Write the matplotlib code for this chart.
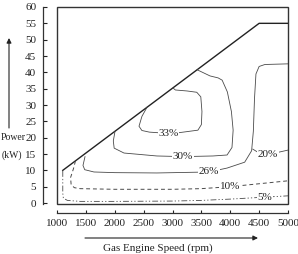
import matplotlib
matplotlib.use('Agg')
import matplotlib.pyplot as plt
from matplotlib.patches import Rectangle

plt.rcParams['font.family'] = ['Liberation Serif', 'DejaVu Serif']

# operating boundary (max power line)
bound_rpm = [1100, 4500, 5000]
bound_kw = [10, 55, 55]

# efficiency contours
c33_rpm = [2558, 2470, 2420, 2470, 2600, 2850, 3100, 3440, 3500, 3510, 3490, 3420, 3250, 3050, 3009]
c33_kw = [29.3, 26.5, 23.5, 22.2, 21.7, 21.4, 21.5, 22.3, 24.0, 28.0, 32.5, 33.9, 34.3, 34.6, 35.2]

c30_rpm = [2004, 1975, 1990, 2160, 2730, 3180, 3700, 3945, 4030, 4050, 4020, 3950, 3860, 3790, 3650, 3425]
c30_kw = [21.9, 19.0, 16.8, 15.3, 14.4, 14.2, 14.4, 14.7, 17.0, 22.3, 28.0, 34.0, 37.6, 38.3, 38.9, 40.8]

c26_rpm = [1485, 1450, 1480, 1640, 2000, 2730, 3630, 3945, 4250, 4370, 4400, 4420, 4445, 4500, 4600, 5000]
c26_kw = [14.2, 11.5, 10.2, 9.5, 9.3, 9.2, 9.5, 10.7, 12.5, 16.0, 22.0, 32.0, 39.5, 41.8, 42.4, 42.6]

c20_rpm = [4390, 4500, 4650, 4850, 5000]
c20_kw = [16.5, 15.3, 15.0, 15.6, 16.2]

c10_rpm = [1320, 1285, 1235, 1245, 1300, 1400, 2000, 3000, 3500, 4000, 4500, 5000]
c10_kw = [12.9, 10.5, 7.8, 5.6, 4.7, 4.4, 4.2, 4.2, 4.4, 5.0, 5.9, 6.8]

c5_rpm = [1100, 1100, 1110, 1180, 1400, 2000, 3000, 3500, 4000, 4600, 5000]
c5_kw = [9.8, 3.0, 1.5, 0.8, 0.5, 0.5, 0.6, 0.8, 1.2, 1.8, 2.2]

# label positions
labels = ['33%', '30%', '26%', '20%', '10%', '5%']
lab_rpm = [2930, 3180, 3630, 4650, 4000, 4600]
lab_kw = [21.4, 14.2, 9.5, 15.0, 5.0, 1.8]

xticks = [1000, 1500, 2000, 2500, 3000, 3500, 4000, 4500, 5000]
yticks = list(range(0, 61, 5))

fig = plt.figure(figsize=(2.98, 2.54), dpi=100)
ax = fig.add_axes([57 / 298, 50 / 254, 231 / 298, 197 / 254])

line_col = '#222222'
cont_col = '#4a4a4a'

ax.plot(bound_rpm, bound_kw, color=line_col, lw=1.0)
for r, k in [(c33_rpm, c33_kw), (c30_rpm, c30_kw), (c26_rpm, c26_kw), (c20_rpm, c20_kw)]:
    ax.plot(r, k, color=cont_col, lw=0.6)
ax.plot(c10_rpm, c10_kw, color=cont_col, lw=0.7, dashes=(4, 3))
ax.plot(c5_rpm, c5_kw, color=cont_col, lw=0.6, dashes=(7, 2.5, 1.5, 2.5, 1.5, 2.5))

for t, r, k in zip(labels, lab_rpm, lab_kw):
    ax.text(r, k, t, fontsize=8, ha='center', va='center', color='#222222',
            bbox=dict(facecolor='white', edgecolor='none', pad=0.5))

ax.set_xlim(1000, 5000)
ax.set_ylim(-0.3, 60)
ax.set_xticks(xticks)
ax.set_yticks(yticks)

# detached axes like the original figure
ax.spines['left'].set_position(('outward', 10))
ax.spines['bottom'].set_position(('outward', 6.5))
for s in ['top', 'right']:
    ax.spines[s].set_visible(False)
for s in ['left', 'bottom']:
    ax.spines[s].set_color('#333333')
    ax.spines[s].set_linewidth(0.9)
ax.add_patch(Rectangle((0, 0), 1, 1, transform=ax.transAxes, fill=False,
                       edgecolor='#333333', lw=1.0, clip_on=False))

ax.tick_params(axis='y', direction='in', length=3, width=0.8, pad=5,
               labelsize=8, colors='#222222')
ax.tick_params(axis='x', direction='in', length=2.5, width=0.8, pad=4,
               labelsize=8, colors='#222222')

# axis captions with arrows
fig.text(158 / 298, 6 / 254, 'Gas Engine Speed (rpm)', fontsize=8,
         ha='center', va='center', color='#222222')
ax.annotate('', xy=(258 / 298, 16 / 254), xytext=(85 / 298, 16 / 254),
            xycoords='figure fraction', textcoords='figure fraction',
            arrowprops=dict(arrowstyle='-|>', lw=0.8, color='#222222',
                            mutation_scale=7, shrinkA=0, shrinkB=0))
fig.text(0.5 / 298, 116 / 254, 'Power', fontsize=7, ha='left', va='center',
         color='#222222')
fig.text(22 / 298, 99 / 254, '(kW)', fontsize=7, ha='right', va='center',
         color='#222222')
ax.annotate('', xy=(9 / 298, 216 / 254), xytext=(9 / 298, 126 / 254),
            xycoords='figure fraction', textcoords='figure fraction',
            arrowprops=dict(arrowstyle='-|>', lw=0.8, color='#222222',
                            mutation_scale=7, shrinkA=0, shrinkB=0))

fig.savefig('out.png', dpi=100)
